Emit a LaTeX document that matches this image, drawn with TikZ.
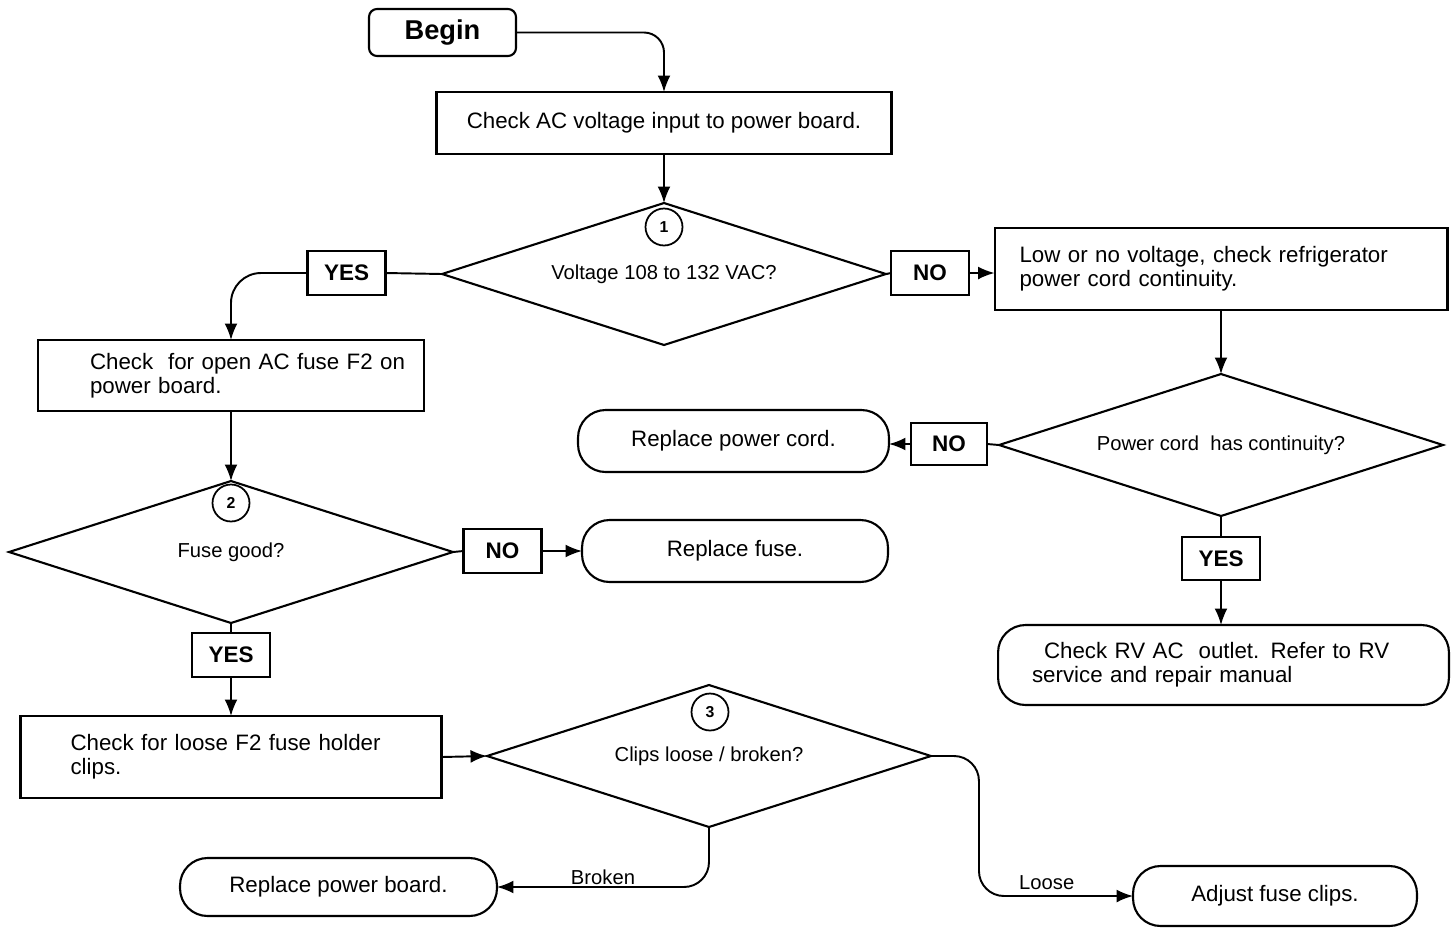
\documentclass[tikz,border=0pt]{standalone}
\usepackage{fontspec}
\setmainfont{Liberation Sans}
\usetikzlibrary{shapes.geometric,arrows.meta}
\begin{document}
\begin{tikzpicture}[x=0.02cm,y=-0.02cm,
  base/.style={draw, line width=1.2pt, inner sep=0pt, outer sep=0pt},
  box/.style={base, rectangle, font=\fontsize{12.7}{13.6}\selectfont},
  term/.style={base, rectangle, rounded corners=5.5mm, font=\fontsize{12.7}{13.6}\selectfont},
  dec/.style={base, diamond, aspect=3.13, minimum width=88.8mm, minimum height=28.4mm, font=\fontsize{11.5}{13}\selectfont},
  lbl/.style={base, minimum width=15.6mm, minimum height=8.7mm, font=\bfseries\fontsize{12.8}{14}\selectfont},
  num/.style={base, circle, line width=1pt, minimum size=7.4mm, font=\bfseries\fontsize{9}{10}\selectfont},
  ln/.style={line width=1.1pt},
  arr/.style={ln, -{Latex[length=3.3mm,width=2.6mm]}},
  tag/.style={font=\fontsize{11.5}{13}\selectfont, inner sep=1pt}
]
\useasboundingbox (0,0) rectangle (1456,927);

% nodes
\node[term, rounded corners=1.6mm, minimum width=29.4mm, minimum height=9.4mm, font=\bfseries\fontsize{15.5}{17}\selectfont] (begin) at (442.5,32.5) {\raisebox{-2pt}{Begin}};
\node[box, minimum width=91mm, minimum height=12.4mm] (chk) at (664,123) {Check AC voltage input to power board.};
\node[dec] (d1) at (664,274) {Voltage 108 to 132 VAC?};
\node[num] (n1) at (664,227) {1};
\node[lbl] (yes1) at (346.5,273) {YES};
\node[lbl] (no1) at (930,273) {NO};
\node[box, text width=90.6mm, align=left, minimum height=16.4mm] (low) at (1221,269) {\hspace*{5mm}Low or no voltage, check refrigerator\\\hspace*{5mm}power cord continuity.};

\node[box, text width=77.2mm, align=left, minimum height=14.2mm] (fuse) at (231,375.5) {\hspace*{10.4mm}Check~ for open AC fuse F2 on\\\hspace*{10.4mm}power board.};

\node[dec] (d2) at (1221,445) {Power cord~ has continuity?};
\node[lbl, minimum width=15.2mm, minimum height=8.4mm] (no2) at (949,444) {NO};
\node[term, minimum width=62.2mm, minimum height=12.4mm] (rpc) at (733.5,441) {Replace power cord.};
\node[lbl] (yes2) at (1221,558.5) {YES};
\node[term, text width=90.2mm, align=left, minimum height=16mm] (rv) at (1223.5,665) {\hspace*{9.2mm}Check RV AC~ outlet. Refer to RV\\\hspace*{6.8mm}service and repair manual};

\node[dec] (d3) at (231,552) {Fuse good?};
\node[num] (n2) at (231,503) {2};
\node[lbl] (no3) at (502.5,551) {NO};
\node[term, minimum width=61.2mm, minimum height=12.4mm] (rf) at (735,551) {Replace fuse.};
\node[lbl] (yes3) at (231,655) {YES};
\node[box, text width=84.2mm, align=left, minimum height=16.4mm] (clip) at (231,757) {\hspace*{10mm}Check for loose F2 fuse holder\\\hspace*{10mm}clips.};

\node[dec] (d4) at (709,756) {Clips loose / broken?};
\node[num] (n3) at (710,712) {3};
\node[term, minimum width=63.4mm, minimum height=11.6mm] (rpb) at (338.5,887) {Replace power board.};
\node[term, minimum width=56.8mm, minimum height=12mm] (adj) at (1275,896) {Adjust fuse clips.};

% connectors
\draw[arr, rounded corners=4mm] (begin.east) -| (chk.north);
\draw[arr] (chk.south) -- (d1.north);
\draw[ln] (d1.west) -- (yes1.east);
\draw[arr, rounded corners=6mm] (yes1.west) -| (fuse.north);
\draw[ln] (d1.east) -- (no1.west);
\draw[arr] (no1.east) -- (no1.east -| low.west);
\draw[arr] (low.south) -- (d2.north);
\draw[ln] (d2.west) -- (no2.east);
\draw[arr] (no2.west) -- (no2.west -| rpc.east);
\draw[ln] (d2.south) -- (yes2.north);
\draw[arr] (yes2.south) -- (yes2.south |- rv.north);
\draw[arr] (fuse.south) -- (d3.north);
\draw[ln] (d3.east) -- (no3.west);
\draw[arr] (no3.east) -- (no3.east -| rf.west);
\draw[ln] (d3.south) -- (yes3.north);
\draw[arr] (yes3.south) -- (clip.north);
\draw[arr] (clip.east) -- (d4.west);
\draw[arr, rounded corners=5mm] (d4.south) |- node[tag, above, pos=0.75] {Broken} (rpb.east);
\draw[arr, rounded corners=5mm] (d4.east) -- ++(48,0) |- node[tag, above=2pt, pos=0.72] {Loose} (adj.west);
\end{tikzpicture}
\end{document}
